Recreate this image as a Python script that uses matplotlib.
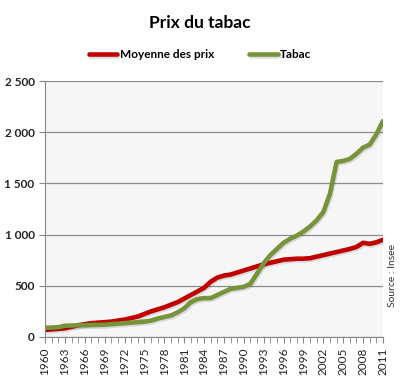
import numpy as np
import matplotlib
matplotlib.use("Agg")
from matplotlib import pyplot as plt
import matplotlib.patheffects as pe

years = list(range(1960, 2012))
moyenne = [70, 75, 80, 85, 100, 115, 125, 135, 140, 145,
           150, 160, 170, 185, 200, 225, 250, 270, 290, 315,
           340, 375, 410, 445, 480, 540, 580, 600, 610, 630,
           650, 670, 690, 710, 725, 740, 755, 760, 765, 765,
           770, 785, 800, 815, 830, 845, 860, 880, 920, 910,
           925, 950]
tabac = [90, 92, 95, 110, 112, 115, 115, 117, 118, 120,
         125, 130, 135, 140, 145, 150, 160, 180, 195, 210,
         240, 280, 340, 370, 380, 380, 410, 440, 470, 480,
         490, 520, 620, 720, 800, 860, 920, 960, 990, 1030,
         1080, 1140, 1220, 1400, 1710, 1720, 1740, 1790, 1850, 1880,
         1980, 2110]
yticks = [0, 500, 1000, 1500, 2000, 2500]
ytick_labels = ["0", "500", "1 000", "1 500", "2 000", "2 500"]

plt.rcParams['font.family'] = ['Lato', 'DejaVu Sans']

fig = plt.figure(figsize=(4.0, 3.78), dpi=100)
fig.patch.set_facecolor('white')
ax = fig.add_axes([0.1125, 0.1085, 0.845, 0.677])
ax.set_facecolor('#f6f6f6')

# soft drop shadow under the lines
shadow = [pe.SimpleLineShadow(offset=(0.8, -1.2), alpha=0.12), pe.Normal()]
l1, = ax.plot(years, moyenne, color='#c00000', lw=3.3, label='Moyenne des prix',
              path_effects=shadow, solid_capstyle='round')
l2, = ax.plot(years, tabac, color='#77933c', lw=3.3, label='Tabac',
              path_effects=shadow, solid_capstyle='round')

ax.set_xlim(1960, 2011)
ax.set_ylim(0, 2500)
ax.set_yticks(yticks)
ax.set_yticklabels(ytick_labels, fontsize=8.5, fontweight='bold', color='#222222')
ax.set_xticks(list(range(1960, 2012, 3)))
ax.set_xticklabels([str(y) for y in range(1960, 2012, 3)], rotation=90,
                   fontsize=8.5, color='#222222')
ax.set_xticks(years, minor=True)
ax.tick_params(axis='x', which='both', direction='out', length=4, color='#888888')
ax.tick_params(axis='y', length=4, color='#888888')
ax.grid(axis='y', color='#8c8c8c', lw=0.9)
ax.set_axisbelow(True)
for s in ['top', 'right']:
    ax.spines[s].set_visible(False)
for s in ['left', 'bottom']:
    ax.spines[s].set_color('#888888')

fig.text(0.5, 0.94, 'Prix du tabac', ha='center', va='center',
         fontsize=12.5, fontweight='bold')
fig.legend(handles=[l1, l2], loc='center', bbox_to_anchor=(0.5, 0.855),
           ncol=2, frameon=False, handlelength=2.4,
           handletextpad=0.2, columnspacing=3,
           prop={'weight': 'bold', 'size': 8.5})
fig.text(0.982, 0.27, 'Source : Insee', rotation=90, ha='center', va='center',
         fontsize=7.5, color='#333333')

fig.savefig('out.png', dpi=100)
